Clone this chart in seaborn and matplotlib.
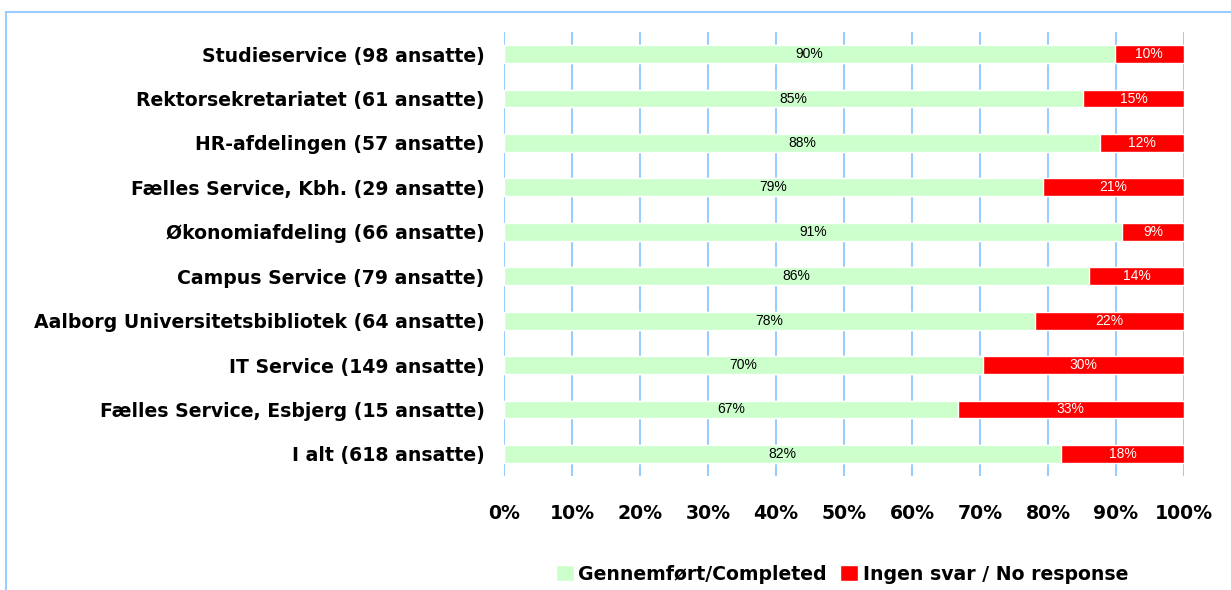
import numpy as np
import pandas as pd
import matplotlib
matplotlib.use("Agg")
import matplotlib.pyplot as plt
from matplotlib.patches import Patch, Rectangle
import seaborn as sns

departments = [
    "Studieservice (98 ansatte)",
    "Rektorsekretariatet (61 ansatte)",
    "HR-afdelingen (57 ansatte)",
    "Fælles Service, Kbh. (29 ansatte)",
    "Økonomiafdeling (66 ansatte)",
    "Campus Service (79 ansatte)",
    "Aalborg Universitetsbibliotek (64 ansatte)",
    "IT Service (149 ansatte)",
    "Fælles Service, Esbjerg (15 ansatte)",
    "I alt (618 ansatte)",
]
completed = [89.8, 85.2, 87.7, 79.3, 90.9, 86.1, 78.1, 70.5, 66.7, 81.9]
no_response = [10.2, 14.8, 12.3, 20.7, 9.1, 13.9, 21.9, 29.5, 33.3, 18.1]
x_ticks = [0, 10, 20, 30, 40, 50, 60, 70, 80, 90, 100]

GREEN = "#CCFFCC"
RED = "#FF0000"
GRID = "#99CCFF"

df = pd.DataFrame({"dept": departments, "completed": completed,
                   "no_response": no_response})
df["total"] = df["completed"] + df["no_response"]

sns.set_style("white")
plt.rcParams["font.family"] = ["Liberation Sans", "DejaVu Sans"]
plt.rcParams["text.color"] = "black"
plt.rcParams["xtick.color"] = "black"
plt.rcParams["ytick.color"] = "black"

bold_font = {"family": "DejaVu Sans", "size": 13.6, "weight": "bold"}

fig = plt.figure(figsize=(12.31, 5.90), dpi=100)
ax = fig.add_axes([0.4094, 0.193, 0.5524, 0.753])

# red segment drawn as full bar, green drawn on top of it
sns.barplot(data=df, y="dept", x="total", color=RED, width=0.4,
            saturation=1, orient="h", ax=ax, zorder=3)
sns.barplot(data=df, y="dept", x="completed", color=GREEN, width=0.4,
            saturation=1, orient="h", ax=ax, zorder=4)

for i, (c, n) in enumerate(zip(completed, no_response)):
    ax.text(c / 2, i, f"{c:.0f}%", ha="center", va="center",
            fontsize=10, color="black", zorder=5)
    ax.text(c + n / 2, i, f"{n:.0f}%", ha="center", va="center",
            fontsize=10, color="white", zorder=5)

ax.set_xlim(0, 100)
ax.set_ylim(len(departments) - 0.5, -0.5)
ax.set_xticks(x_ticks)
ax.set_xticklabels([f"{t}%" for t in x_ticks], fontdict=bold_font)
ax.set_yticks(range(len(departments)))
ax.set_yticklabels(departments, fontdict=bold_font)
ax.tick_params(axis="both", length=0)
ax.tick_params(axis="x", pad=20)
ax.tick_params(axis="y", pad=14)
ax.set_xlabel("")
ax.set_ylabel("")
for s in ax.spines.values():
    s.set_visible(False)
ax.xaxis.grid(True, color=GRID, linewidth=1.5, zorder=0)
ax.set_axisbelow(True)

# outer chart frame
fig.patches.append(Rectangle((6 / 1231, -0.05), 1.2, 1 - 12 / 590 + 0.05,
                             transform=fig.transFigure, fill=False,
                             edgecolor=GRID, linewidth=1.5))

handles = [Patch(facecolor=GREEN, label="Gennemført/Completed"),
           Patch(facecolor=RED, label="Ingen svar / No response")]
fig.legend(handles=handles, loc="center", bbox_to_anchor=(842 / 1231, 1 - 574 / 590),
           ncol=2, frameon=False, handlelength=0.95, handleheight=0.95,
           handletextpad=0.25, columnspacing=0.7, prop=bold_font)

fig.savefig("out.png", dpi=100)
